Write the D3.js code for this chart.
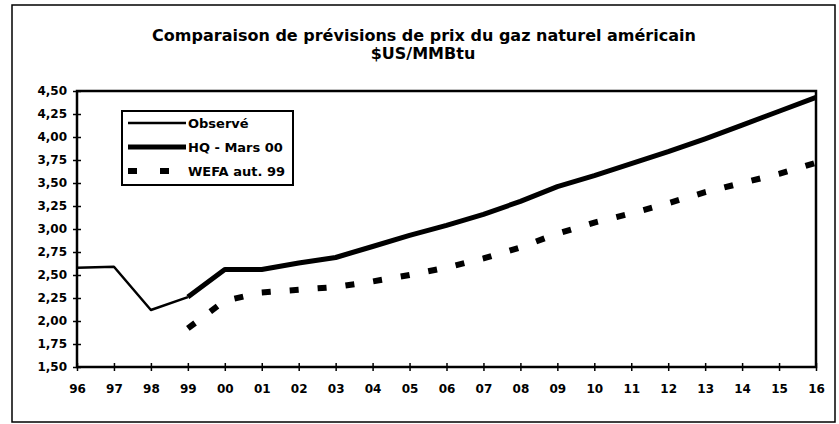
<!DOCTYPE html>
<html>
<head>
<meta charset="utf-8">
<script src="https://cdn.jsdelivr.net/npm/d3@7"></script>
<style>
  body { margin: 0; background: #fff; }
  text { font-family: "DejaVu Sans", sans-serif; font-weight: bold; fill: #000; }
</style>
</head>
<body>
<div id="chart"></div>
<script>
// chart data
const years = ["96","97","98","99","00","01","02","03","04","05","06","07","08","09","10","11","12","13","14","15","16"];
const observe = [2.58, 2.59, 2.12, 2.26];                      // 96 -> 99
const hq = [2.26, 2.56, 2.56, 2.63, 2.69, 2.81, 2.93, 3.04, 3.16, 3.30,
            3.46, 3.58, 3.71, 3.84, 3.98, 4.13, 4.28, 4.43];   // 99 -> 16
const wefa = [1.92, 2.22, 2.31, 2.34, 2.37, 2.43, 2.50, 2.58, 2.68, 2.80,
              2.95, 3.07, 3.17, 3.28, 3.40, 3.50, 3.60, 3.72]; // 99 -> 16
const yTicks = [1.5, 1.75, 2, 2.25, 2.5, 2.75, 3, 3.25, 3.5, 3.75, 4, 4.25, 4.5];
const legendLabels = ["Observé", "HQ - Mars 00", "WEFA aut. 99"];

const WIDTH = 839, HEIGHT = 424;
const PLOT = {left: 77, right: 816, top: 91, bottom: 367};

const svg = d3.select("#chart").append("svg")
  .attr("width", WIDTH)
  .attr("height", HEIGHT);

// outer frame
svg.append("rect")
  .attr("x", 12).attr("y", 5)
  .attr("width", 823).attr("height", 417)
  .attr("fill", "none").attr("stroke", "#000").attr("stroke-width", 1.5);

// title
svg.append("text")
  .attr("x", 424).attr("y", 41)
  .attr("text-anchor", "middle")
  .style("font-size", "16px")
  .text("Comparaison de prévisions de prix du gaz naturel américain");
svg.append("text")
  .attr("x", 423).attr("y", 59)
  .attr("text-anchor", "middle")
  .style("font-size", "16px")
  .text("$US/MMBtu");

const x = d3.scalePoint().domain(years).range([PLOT.left, PLOT.right]);
const y = d3.scaleLinear().domain([1.5, 4.5]).range([PLOT.bottom, PLOT.top]);

// plot area frame
svg.append("rect")
  .attr("x", PLOT.left).attr("y", PLOT.top)
  .attr("width", PLOT.right - PLOT.left).attr("height", PLOT.bottom - PLOT.top)
  .attr("fill", "none").attr("stroke", "#000").attr("stroke-width", 2.5);

// axes, ticks crossing the axis line
const yAxis = svg.append("g")
  .attr("transform", `translate(${PLOT.left},0)`)
  .call(d3.axisLeft(y).tickValues(yTicks).tickSize(4)
    .tickFormat(d => d3.format(".2f")(d).replace(".", ",")));
yAxis.select(".domain").remove();
yAxis.selectAll(".tick line").attr("x2", 4).attr("x1", -4).attr("stroke-width", 1.5);
yAxis.selectAll(".tick text").attr("x", -10).style("font-size", "12px");

const xAxis = svg.append("g")
  .attr("transform", `translate(0,${PLOT.bottom})`)
  .call(d3.axisBottom(x).tickSize(4));
xAxis.select(".domain").remove();
xAxis.selectAll(".tick line").attr("y1", -4).attr("y2", 4).attr("stroke-width", 1.5);
xAxis.selectAll(".tick text").attr("y", 17).style("font-size", "12px");

// lines
const line = d3.line().x(d => x(d[0])).y(d => y(d[1]));

svg.append("path")
  .datum(observe.map((v, i) => [years[i], v]))
  .attr("d", line)
  .attr("fill", "none").attr("stroke", "#000").attr("stroke-width", 2.5)
  .attr("stroke-linejoin", "round");

svg.append("path")
  .datum(hq.map((v, i) => [years[i + 3], v]))
  .attr("d", line)
  .attr("fill", "none").attr("stroke", "#000").attr("stroke-width", 5)
  .attr("stroke-linejoin", "round");

svg.append("path")
  .datum(wefa.map((v, i) => [years[i + 3], v]))
  .attr("d", line)
  .attr("fill", "none").attr("stroke", "#000").attr("stroke-width", 6)
  .attr("stroke-dasharray", "9,19");

// legend
const legend = svg.append("g").attr("transform", "translate(122,111)");
legend.append("rect")
  .attr("width", 171).attr("height", 74)
  .attr("fill", "#fff").attr("stroke", "#000").attr("stroke-width", 2);

const legendStyles = [
  {w: 2.5, dash: null},
  {w: 5, dash: null},
  {w: 6, dash: "9,23"}
];
legendLabels.forEach((lab, i) => {
  const ly = 12 + i * 24;
  legend.append("line")
    .attr("x1", 6).attr("x2", 64).attr("y1", ly).attr("y2", ly)
    .attr("stroke", "#000").attr("stroke-width", legendStyles[i].w)
    .attr("stroke-dasharray", legendStyles[i].dash);
  legend.append("text")
    .attr("x", 66).attr("y", ly + 5)
    .style("font-size", "13px")
    .text(lab);
});
</script>
</body>
</html>
